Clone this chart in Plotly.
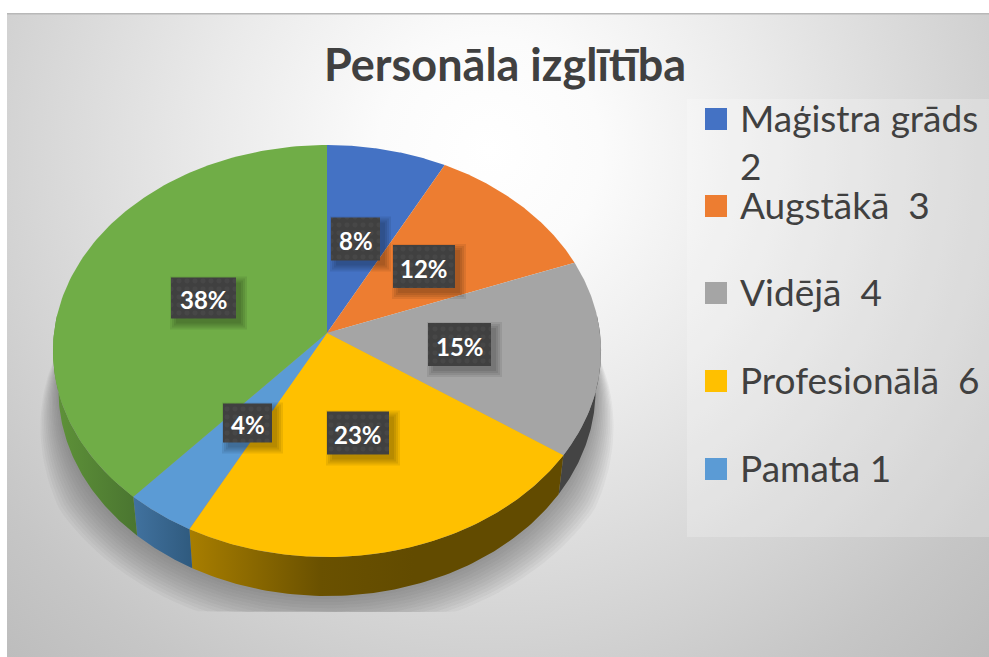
import numpy as np
import plotly.graph_objects as go

# ---- data ----
title_text = "Personāla izglītība"
categories = ["Maģistra grāds", "Augstākā", "Vidējā", "Profesionālā", "Pamata", ""]
values = [2, 3, 4, 6, 1, 10]
top_colors = ["#4472C4", "#ED7D31", "#A5A5A5", "#FFC000", "#5B9BD5", "#70AD47"]
side_scales = [
    ["#2A4A85", "#2A4A85"],
    ["#A0541F", "#A0541F"],
    ["#444444", "#444444"],
    ["#A87E00", "#6A5100", "#624B00", "#624B00"],
    ["#41729F", "#2F5A7E"],
    ["#5F9339", "#4A7530"],
]
# label box centres in page pixels (layout, not data)
label_centres = [(355.5, 239), (424, 266.5), (459.5, 344.5), (358, 433), (247.5, 423), (203.5, 298)]
label_sizes = [(49, 43), (62, 43), (63, 43), (62, 43), (49, 39), (65, 41)]

W, H = 989, 657
LEFT, TOP = 7, 13
CX, CY, A, B, K = 327.0, 333.0, 273.0, 204.4, 0.0874
DEPTH, SHRINK = 39.0, 0.98
FONT = "Lato"
DARK = "#404040"


def project(theta_deg, r=1.0, bottom=False):
    t = np.radians(theta_deg)
    X, Y = r * np.sin(t), r * np.cos(t)
    w = 1 + K * Y
    sx, sy = A * X / w, B * Y / w
    if bottom:
        return CX + SHRINK * sx, CY - sy + DEPTH
    return CX + sx, CY - sy


total = sum(values)
edges = np.concatenate([[0], np.cumsum(values)]) / total * 360
fig = go.Figure()


def poly(x, y, **kw):
    x, y = list(x), list(y)
    fig.add_trace(go.Scatter(x=x + x[:1], y=y + y[:1], mode="lines", fill="toself",
                             line=dict(width=0), hoverinfo="skip", showlegend=False, **kw))


# background
BGX, BGY, BGR = 490, 150, 800
poly([BGX - BGR, BGX + BGR, BGX + BGR, BGX - BGR], [BGY - BGR, BGY - BGR, BGY + BGR, BGY + BGR],
     fillgradient=dict(type="radial",
                       colorscale=[[0, "#FFFFFF"], [0.14, "#FBFBFB"], [0.35, "#EAEAEA"],
                                   [0.62, "#D2D2D2"], [0.75, "#C6C6C6"], [1, "#B4B4B4"]]))

# legend panel
poly([687, W + 5, W + 5, 687], [99, 99, 537, 537], fillcolor="rgba(255,255,255,0.22)")

# soft shadow of the pie
for d in np.linspace(3, 38, 12):
    th = np.linspace(78, 282, 120)
    taper = np.clip(np.minimum(th - 78, 282 - th) / 45, 0, 1)
    t = np.radians(th)
    bx, by = project(th, bottom=True)
    sx = bx + d * taper * np.sin(t)
    sy = np.minimum(by - d * taper * np.cos(t), 612)
    poly(sx, sy, fillcolor="rgba(70,70,70,0.05)")

# side walls
FRONT0, FRONT1 = 85, 275
for i in range(len(values)):
    a0, a1 = max(edges[i], FRONT0), min(edges[i + 1], FRONT1)
    if a1 <= a0:
        continue
    th = np.linspace(a0, a1, 80)
    tx, ty = project(th)
    bx, by = project(th[::-1], bottom=True)
    stops = side_scales[i]
    scale = [[j / (len(stops) - 1), c] for j, c in enumerate(stops)]
    if len(stops) == 4:
        scale = [[0, stops[0]], [0.35, stops[1]], [0.6, stops[2]], [1, stops[3]]]
    poly(np.r_[tx, bx], np.r_[ty, by],
         fillgradient=dict(type="horizontal", colorscale=scale))

# top faces
for i in range(len(values)):
    th = np.linspace(edges[i], edges[i + 1], 120)
    tx, ty = project(th)
    poly(np.r_[CX, tx], np.r_[CY, ty], fillcolor=top_colors[i])

annotations = []
# percentage labels
for i, v in enumerate(values):
    (lx, ly), (bw, bh) = label_centres[i], label_sizes[i]
    x0, x1, y0, y1 = lx - bw / 2, lx + bw / 2, ly - bh / 2, ly + bh / 2
    for g in (6, 4, 2, 0):
        poly([x0 + 5 - g, x1 + 5 + g, x1 + 5 + g, x0 + 5 - g],
             [y0 + 5 - g, y0 + 5 - g, y1 + 5 + g, y1 + 5 + g], fillcolor="rgba(0,0,0,0.08)")
    poly([x0, x1, x1, x0], [y0, y0, y1, y1], fillcolor=DARK,
         fillpattern=dict(shape=".", bgcolor=DARK, fgcolor="#4E4E4E", size=8, solidity=0.3))
    annotations.append(dict(x=lx, y=ly + 1.5, xref="x", yref="y", showarrow=False,
                            text=f"<b>{round(v / total * 100)}%</b>",
                            font=dict(family=FONT, size=24, color="#FFFFFF")))

# legend swatches and text
row_y = [119, 206, 293, 381, 469]
fig.add_trace(go.Scatter(x=[716] * 5, y=row_y, mode="markers", hoverinfo="skip", showlegend=False,
                         marker=dict(symbol="square", size=22, color=top_colors[:5], line=dict(width=0))))
for i, y in enumerate(row_y):
    if i == 0:
        lines = [(categories[i], y - 2), (str(values[i]), y + 46)]
    else:
        lines = [(f"{categories[i]}\u00a0\u00a0{values[i]}" if i != 4 else f"{categories[i]} {values[i]}", y - 2)]
    for txt, yy in lines:
        annotations.append(dict(x=738, y=yy, xref="x", yref="y", xanchor="left", showarrow=False, text=txt,
                                font=dict(family=FONT, size=37, color=DARK)))

annotations.append(dict(x=505, y=64, xref="x", yref="y", showarrow=False, text=f"<b>{title_text}</b>",
                        font=dict(family=FONT, size=45, color=DARK)))

fig.update_layout(
    width=W, height=H, margin=dict(l=0, r=0, t=0, b=0), paper_bgcolor="#FFFFFF", plot_bgcolor="#FFFFFF",
    xaxis=dict(range=[LEFT, W], domain=[LEFT / W, 1], visible=False, fixedrange=True),
    yaxis=dict(range=[H, TOP], domain=[0, (H - TOP) / H], visible=False, fixedrange=True),
    annotations=annotations,
    shapes=[dict(type="line", xref="x", yref="y", x0=LEFT, x1=W, y0=TOP + 0.5, y1=TOP + 0.5,
                 line=dict(color="#B8B8B8", width=2))],
    hovermode=False,
)
fig.write_html("out.html", config={"displayModeBar": False},
               post_script="document.body.style.margin='0';document.body.style.overflow='hidden';")
